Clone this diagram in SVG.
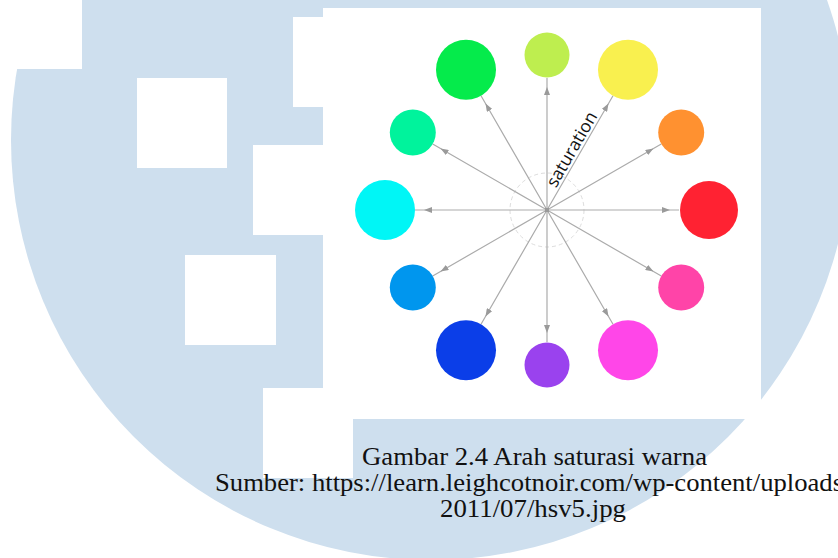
<svg xmlns="http://www.w3.org/2000/svg" width="838" height="558" viewBox="0 0 838 558">
  <defs>
    <style>
      .wm { fill: #CEDFEE; }
      .cut { fill: #FFFFFF; }
      .spoke { fill: none; stroke: #ABABAB; stroke-width: 1.2; marker-mid: url(#tip); }
      .guide { fill: none; stroke: #DDDDDD; stroke-width: 1; stroke-dasharray: 4 3; }
      .label { font-family: "Open Sans", "DejaVu Sans", sans-serif; font-size: 17.5px; fill: #111111; }
      .caption { font-family: "Liberation Serif", "Times New Roman", serif; font-size: 25px; fill: #111111; }
    </style>
    <marker id="tip" viewBox="0 0 8 6" refX="8" refY="3" markerWidth="8" markerHeight="6" markerUnits="userSpaceOnUse" orient="auto">
      <path d="M0,0 L8,3 L0,6 Z" fill="#9A9A9A"/>
    </marker>
  </defs>

  <!-- watermark: round emblem with square cut-outs -->
  <g id="watermark">
    <circle class="wm" cx="431" cy="140" r="420"/>
    <rect class="cut" x="0" y="0" width="82" height="69"/>
    <rect class="cut" x="137" y="78" width="90" height="90"/>
    <rect class="cut" x="293" y="17" width="40" height="90"/>
    <rect class="cut" x="253" y="145" width="80" height="90"/>
    <rect class="cut" x="185" y="255" width="91" height="90"/>
    <rect class="cut" x="263" y="388" width="90" height="90"/>
  </g>

  <!-- picture panel -->
  <rect id="panel" x="323" y="8" width="438" height="411" fill="#FFFFFF"/>

  <!-- centre guide -->
  <circle class="guide" cx="547" cy="210" r="37"/>

  <!-- spokes: centre -> arrow tip -> circle edge -->
  <g id="connectors">
    <path class="spoke" d="M547,210 L670,210 L679,210"/>
    <path class="spoke" d="M547,210 L653.5,148.5 L661.3,144"/>
    <path class="spoke" d="M547,210 L608.5,103.5 L613,95.7"/>
    <path class="spoke" d="M547,210 L547,87 L547,78"/>
    <path class="spoke" d="M547,210 L485.5,103.5 L481,95.7"/>
    <path class="spoke" d="M547,210 L440.5,148.5 L432.7,144"/>
    <path class="spoke" d="M547,210 L424,210 L415,210"/>
    <path class="spoke" d="M547,210 L440.5,271.5 L432.7,276"/>
    <path class="spoke" d="M547,210 L485.5,316.5 L481,324.3"/>
    <path class="spoke" d="M547,210 L547,333 L547,342"/>
    <path class="spoke" d="M547,210 L608.5,316.5 L613,324.3"/>
    <path class="spoke" d="M547,210 L653.5,271.5 L661.3,276"/>
    <rect x="545" y="208" width="4" height="4" fill="#999999"/>
  </g>

  <!-- hue swatches -->
  <g id="red"><circle cx="709" cy="210" r="29" fill="#FF2232"/></g>
  <g id="orange"><circle cx="681.2" cy="132.5" r="23" fill="#FF9130"/></g>
  <g id="yellow"><circle cx="628" cy="69.7" r="30" fill="#F9F04F"/></g>
  <g id="chartreuse"><circle cx="547" cy="55" r="22.5" fill="#BEEE4F"/></g>
  <g id="green"><circle cx="466" cy="69.7" r="30" fill="#05EB4B"/></g>
  <g id="spring-green"><circle cx="412.8" cy="132.5" r="23" fill="#00F39C"/></g>
  <g id="cyan"><circle cx="385" cy="210" r="30" fill="#00F6F6"/></g>
  <g id="azure"><circle cx="412.8" cy="287.5" r="23" fill="#0096EE"/></g>
  <g id="blue"><circle cx="466" cy="350.3" r="30" fill="#0B3EE8"/></g>
  <g id="violet"><circle cx="547" cy="365" r="22.5" fill="#9A42EE"/></g>
  <g id="magenta"><circle cx="628" cy="350.3" r="30" fill="#FF46E8"/></g>
  <g id="rose"><circle cx="681.2" cy="287.5" r="23" fill="#FF44A8"/></g>

  <!-- axis label -->
  <g id="saturation-label">
    <text class="label" transform="translate(547,210) rotate(-60)" x="23" y="-3">saturation</text>
  </g>

  <!-- caption -->
  <g id="caption">
    <text class="caption" x="362" y="465" textLength="345" lengthAdjust="spacingAndGlyphs">Gambar 2.4 Arah saturasi warna</text>
    <text class="caption" x="215" y="491" textLength="628" lengthAdjust="spacingAndGlyphs">Sumber: https://learn.leighcotnoir.com/wp-content/uploads</text>
    <text class="caption" x="440" y="517" textLength="186" lengthAdjust="spacingAndGlyphs">2011/07/hsv5.jpg</text>
  </g>
</svg>
